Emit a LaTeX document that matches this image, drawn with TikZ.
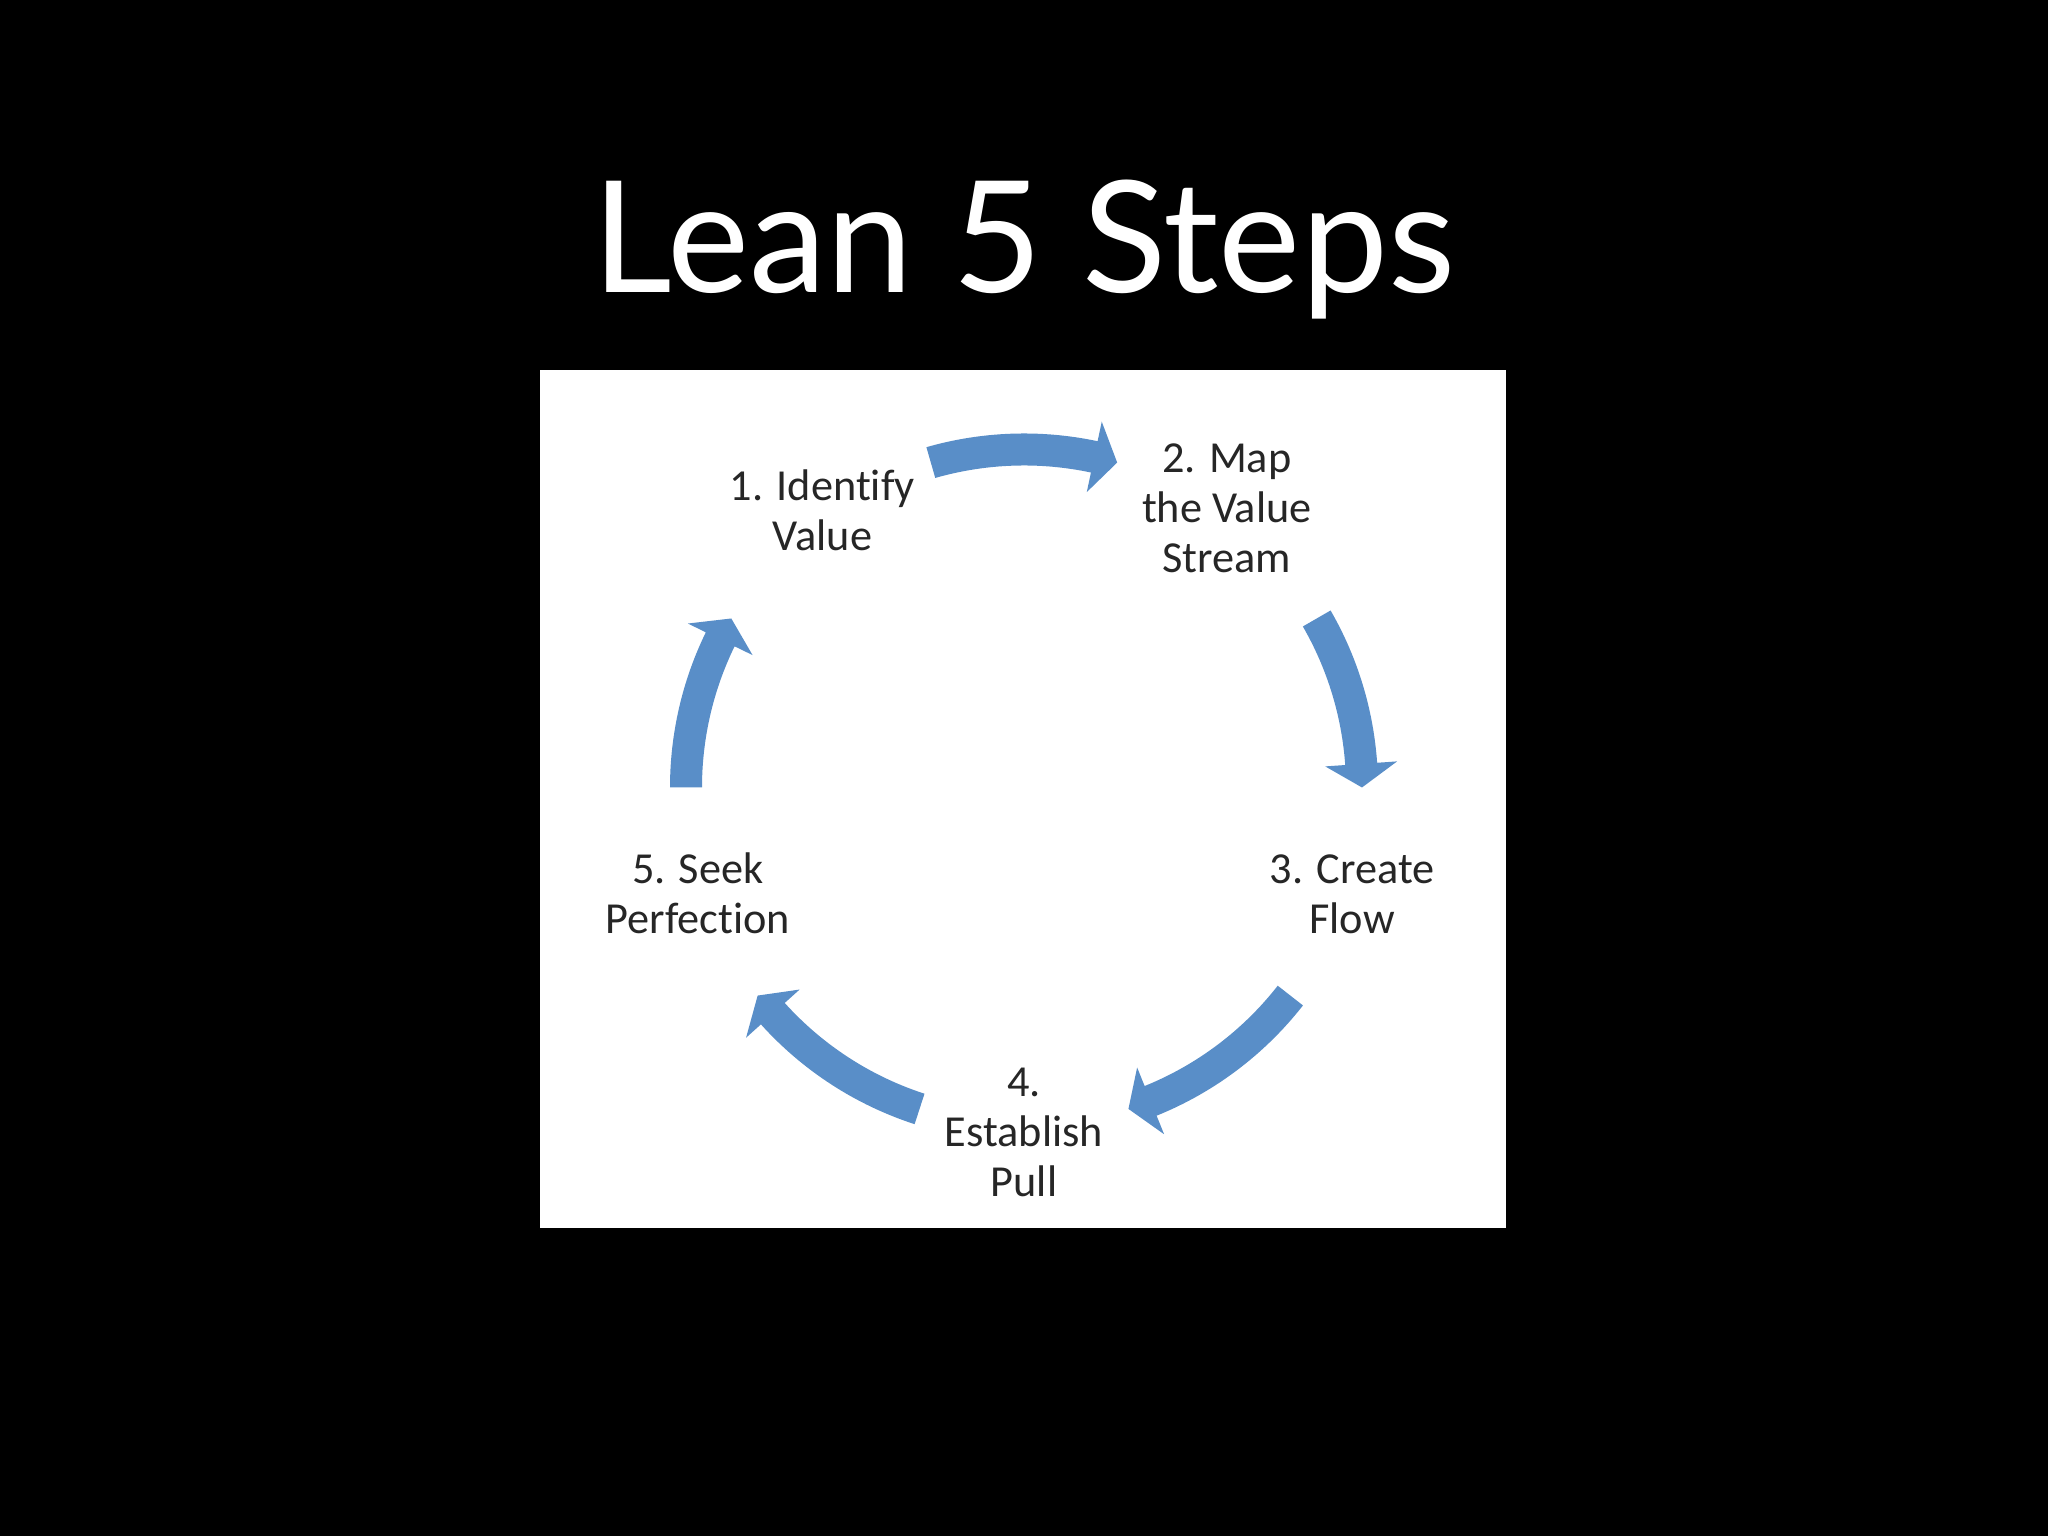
\documentclass[tikz,border=0pt]{standalone}
\usepackage{fontspec}
\setmainfont{Carlito}[Ligatures=CommonOff]
\newfontfamily\titlefont{Lato}
\usepackage{xcolor}
\usetikzlibrary{calc}

\definecolor{flowblue}{RGB}{89,142,200}
\definecolor{labelgray}{RGB}{38,38,38}

% curved block arrow around (c): #1 tail angle, #2 tip angle
\newcommand{\cyclearrow}[2]{%
  \fill[flowblue] ($(c)+(#1:3.54)$) arc[start angle=#1, end angle=#2+4, radius=3.54cm]
    -- ($(c)+(#2+4:3.74)$) -- ($(c)+(#2:3.38)$) -- ($(c)+(#2+4:3.02)$)
    -- ($(c)+(#2+4:3.22)$) arc[start angle=#2+4, end angle=#1, radius=3.22cm] -- cycle;}

\begin{document}
\begin{tikzpicture}[
  title/.style={text=white, font=\titlefont\fontsize{44.2}{53}\selectfont, anchor=base},
  stage/.style={text=labelgray, align=center, font=\fontsize{12.6}{14.2}\selectfont}
]
  \fill[black] (0,0) rectangle (20.48,15.36);
  \fill[white] (5.40,3.08) rectangle (15.06,11.66);

  \node[title] (title) at (10.24,12.43) {Lean 5 Steps};

  \coordinate (c) at (10.24,7.485);

  \node[stage] (s1) at ($(c)+(126:3.43)$) {1. Identify\\Value};
  \node[stage] (s2) at ($(c)+(54:3.45)$) {2. Map\\the Value\\Stream};
  \node[stage] (s3) at ($(c)+(-18:3.45)$) {3. Create\\Flow};
  \node[stage] (s4) at ($(c)+(-90:3.45)$) {4.\\Establish\\Pull};
  \node[stage] (s5) at ($(c)+(-162:3.43)$) {5. Seek\\Perfection};

  \cyclearrow{106}{74}
  \cyclearrow{30}{0}
  \cyclearrow{-38}{-72}
  \cyclearrow{-108}{-142}
  \cyclearrow{180}{150}
\end{tikzpicture}
\end{document}
